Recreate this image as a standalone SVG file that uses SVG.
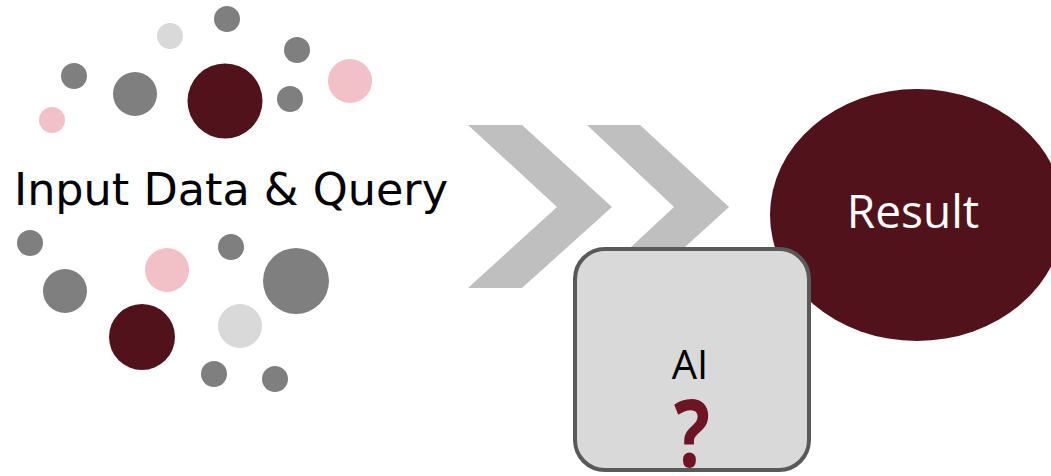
<svg xmlns="http://www.w3.org/2000/svg" width="1051" height="476" viewBox="0 0 1051 476">
<style>
.g{fill:#7F7F7F}.lg{fill:#D9D9D9}.pk{fill:#F2C0C7}.dr{fill:#52121C}
.chev{fill:#BFBFBF}
.lbl{font-family:"DejaVu Sans",sans-serif;font-size:44px;fill:#000}
.ai{font-family:"Open Sans","Liberation Sans",sans-serif;font-size:40px;fill:#000}
.q{font-family:"Open Sans","Liberation Sans",sans-serif;font-size:94px;font-weight:bold;fill:#6E1423}
.res{font-family:"Open Sans","Liberation Sans",sans-serif;font-size:46px;fill:#fff}
</style>
<rect width="1051" height="476" fill="#fff"/>
<g id="input">
<circle class="lg" cx="170" cy="36" r="13"/>
<circle class="g" cx="227" cy="19" r="13"/>
<circle class="g" cx="297" cy="50" r="13"/>
<circle class="pk" cx="350" cy="81" r="22"/>
<circle class="g" cx="74" cy="76" r="13"/>
<circle class="g" cx="135" cy="94" r="22"/>
<circle class="dr" cx="225" cy="101" r="37.5"/>
<circle class="g" cx="290" cy="99" r="13"/>
<circle class="pk" cx="52" cy="120" r="13"/>
<circle class="g" cx="30" cy="243" r="13"/>
<circle class="g" cx="65" cy="291" r="22"/>
<circle class="pk" cx="167" cy="270" r="22"/>
<circle class="g" cx="231" cy="247" r="13"/>
<circle class="g" cx="296" cy="281" r="33"/>
<circle class="dr" cx="142" cy="337" r="33"/>
<circle class="lg" cx="240" cy="326" r="22"/>
<circle class="g" cx="214" cy="374" r="13"/>
<circle class="g" cx="275" cy="379" r="13"/>
<text class="lbl" x="14" y="205" textLength="434" lengthAdjust="spacingAndGlyphs">Input Data &amp; Query</text>
</g>
<g id="connectors">
<polygon class="chev" points="468,125 522,125 612,207 522,288 468,288 557,207"/>
<polygon class="chev" points="587,125 640,125 729,207 640,288 587,288 674,207"/>
</g>
<g id="result">
<ellipse class="dr" cx="917" cy="215" rx="147" ry="126"/>
<text class="res" x="913" y="228" text-anchor="middle">Result</text>
</g>
<g id="ai">
<rect x="575" y="249" width="234" height="221" rx="30" fill="#D9D9D9" stroke="#595959" stroke-width="4"/>
<text class="ai" x="690" y="379" text-anchor="middle">AI</text>
<text class="q" x="692" y="467" text-anchor="middle" textLength="36" lengthAdjust="spacingAndGlyphs">?</text>
</g>
</svg>
